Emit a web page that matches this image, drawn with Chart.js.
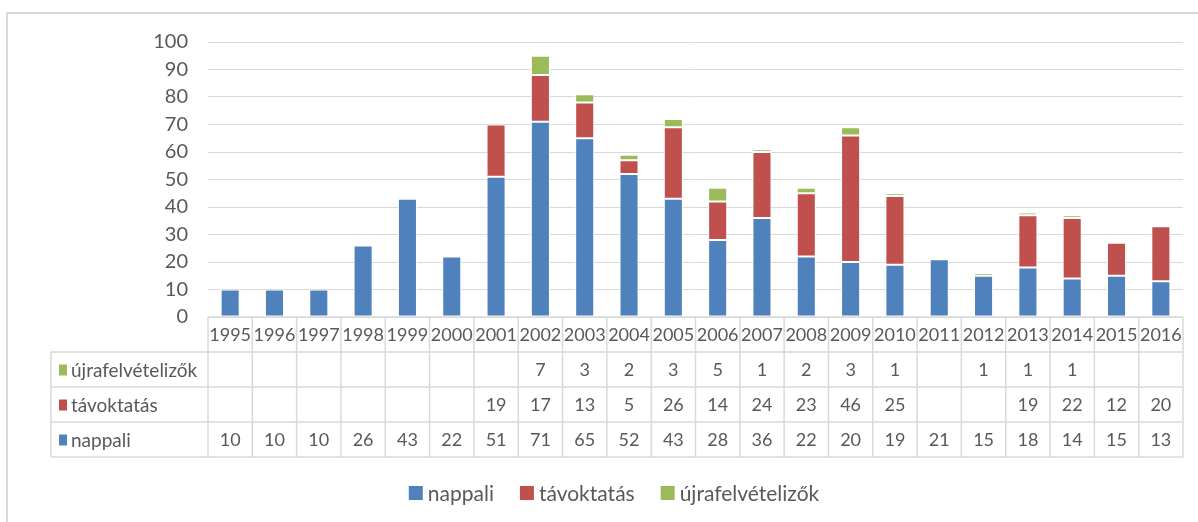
<!DOCTYPE html>
<html lang="hu">
<head>
<meta charset="utf-8">
<title>Hallgatói létszám</title>
<script src="https://cdn.jsdelivr.net/npm/chart.js@4.4.0/dist/chart.umd.min.js"></script>
<style>
    html, body { margin: 0; padding: 0; background: #fff; overflow: hidden; }
    #wrap { position: relative; width: 1198px; height: 522px; }
</style>
</head>
<body>
<div id="wrap"><canvas id="studentsChart" width="1198" height="522"></canvas></div>
<script>
// Categories (years) shown in the header row of the data table
const years = ['1995', '1996', '1997', '1998', '1999', '2000', '2001', '2002', '2003', '2004', '2005',
    '2006', '2007', '2008', '2009', '2010', '2011', '2012', '2013', '2014', '2015', '2016'];

// Series values, null = empty table cell
const nappali = [10, 10, 10, 26, 43, 22, 51, 71, 65, 52, 43, 28, 36, 22, 20, 19, 21, 15, 18, 14, 15, 13];
const tavoktatas = [null, null, null, null, null, null, 19, 17, 13, 5, 26, 14, 24, 23, 46, 25, null, null, 19, 22, 12, 20];
const ujrafelvetelizok = [null, null, null, null, null, null, null, 7, 3, 2, 3, 5, 1, 2, 3, 1, null, 1, 1, 1, null, null];

// Value axis
const yMin = 0;
const yMax = 100;
const yStep = 10;

const textColor = '#595959';
const lineColor = '#d9d9d9';
const fontFamily = 'Lato, "Open Sans", sans-serif';

// Draws the outer frame, the data table under the bars and the legend
const dataTablePlugin = {
    id: 'dataTable',
    afterDraw(chart) {
        const ctx = chart.ctx;
        const area = chart.chartArea;
        const x = chart.scales.x;
        const colW = (area.right - area.left) / years.length;
        const labelLeft = 51;
        const top = area.bottom;
        const rowH = 35;
        const rows = chart.data.datasets.slice().reverse();
        const bottom = top + rowH * (rows.length + 1);

        ctx.save();

        // outer chart frame
        ctx.strokeStyle = lineColor;
        ctx.lineWidth = 2;
        ctx.strokeRect(7, 13, 1300, 600);

        // table grid
        ctx.lineWidth = 1.5;
        ctx.beginPath();
        ctx.moveTo(area.left, top);
        ctx.lineTo(area.right, top);
        for (let r = 1; r <= rows.length + 1; r++) {
            ctx.moveTo(labelLeft, top + r * rowH);
            ctx.lineTo(area.right, top + r * rowH);
        }
        ctx.moveTo(labelLeft, top + rowH);
        ctx.lineTo(labelLeft, bottom);
        for (let i = 0; i <= years.length; i++) {
            const px = area.left + i * colW;
            ctx.moveTo(px, top);
            ctx.lineTo(px, bottom);
        }
        ctx.stroke();

        ctx.fillStyle = textColor;
        ctx.textBaseline = 'middle';
        ctx.textAlign = 'center';
        ctx.font = '18px ' + fontFamily;

        // header row with the years
        years.forEach((year, i) => {
            ctx.fillText(year, x.getPixelForValue(i), top + rowH / 2 + 1);
        });

        // one row per series, top to bottom: újrafelvételizők, távoktatás, nappali
        rows.forEach((ds, r) => {
            const cy = top + rowH * (r + 1) + rowH / 2 + 1;
            ctx.fillStyle = ds.backgroundColor;
            ctx.fillRect(59, cy - 6, 8, 11);
            ctx.fillStyle = textColor;
            ctx.textAlign = 'left';
            ctx.font = '19px ' + fontFamily;
            ctx.fillText(ds.label, 71, cy);
            ctx.textAlign = 'center';
            ctx.font = '18px ' + fontFamily;
            ds.data.forEach((v, i) => {
                if (v !== null) {
                    ctx.fillText(String(v), x.getPixelForValue(i), cy);
                }
            });
        });

        // legend below the table
        ctx.font = '21px ' + fontFamily;
        ctx.textAlign = 'left';
        const box = 14;
        const gap = 5;
        const spacing = 26;
        const items = chart.data.datasets.map(ds => ({
            ds,
            w: box + gap + ctx.measureText(ds.label).width
        }));
        const total = items.reduce((s, it) => s + it.w, 0) + spacing * (items.length - 1);
        let lx = 614 - total / 2;
        const ly = 493;
        items.forEach(it => {
            ctx.fillStyle = it.ds.backgroundColor;
            ctx.fillRect(lx, ly - box / 2, box, box);
            ctx.fillStyle = textColor;
            ctx.fillText(it.ds.label, lx + box + gap, ly + 1);
            lx += it.w + spacing;
        });

        ctx.restore();
    }
};

const ctx = document.getElementById('studentsChart').getContext('2d');
const studentsChart = new Chart(ctx, {
    type: 'bar',
    data: {
        labels: years,
        datasets: [
            {
                label: 'nappali',
                data: nappali,
                backgroundColor: '#4f81bd'
            },
            {
                label: 'távoktatás',
                data: tavoktatas,
                backgroundColor: '#c0504d'
            },
            {
                label: 'újrafelvételizők',
                data: ujrafelvetelizok,
                backgroundColor: '#9bbb59'
            }
        ]
    },
    options: {
        responsive: false,
        animation: false,
        devicePixelRatio: 1,
        datasets: {
            bar: {
                categoryPercentage: 1,
                barPercentage: 0.43,
                borderColor: '#ffffff',
                borderWidth: 1,
                borderSkipped: false
            }
        },
        layout: {
            padding: { top: 42, right: 15, bottom: 205, left: 0 }
        },
        scales: {
            x: {
                stacked: true,
                display: false
            },
            y: {
                stacked: true,
                min: yMin,
                max: yMax,
                ticks: {
                    stepSize: yStep,
                    color: textColor,
                    padding: 20,
                    font: { family: fontFamily, size: 20 }
                },
                grid: {
                    color: lineColor,
                    lineWidth: 1,
                    drawTicks: false
                },
                border: { display: false },
                afterFit: scale => { scale.width = 208; } // fixed width so the plot starts at the table's year columns
            }
        },
        plugins: {
            legend: { display: false },
            tooltip: { enabled: false }
        }
    },
    plugins: [dataTablePlugin]
});
</script>
</body>
</html>
